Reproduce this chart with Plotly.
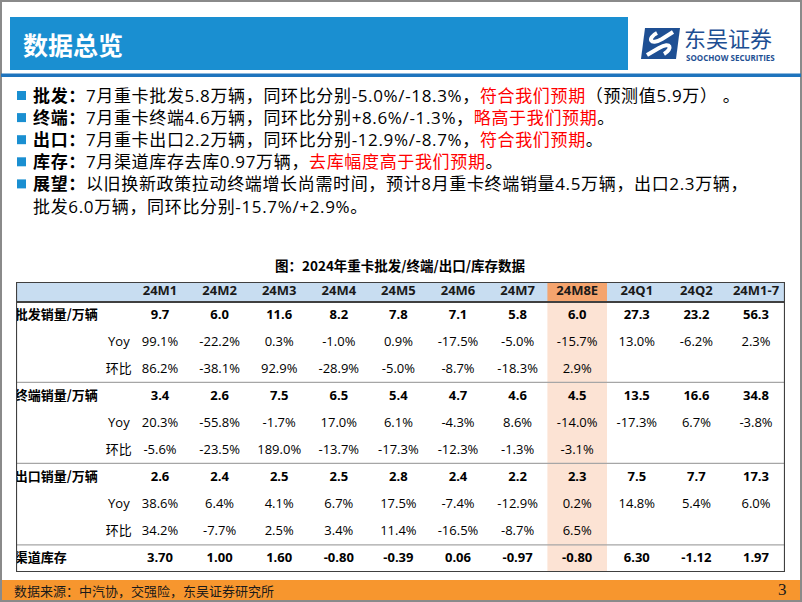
import plotly.graph_objects as go

W, H = 802, 602

# ---------------------------------------------------------------------------
# DADOS
# ---------------------------------------------------------------------------
COLS = ["24M1", "24M2", "24M3", "24M4", "24M5", "24M6", "24M7", "24M8E", "24Q1", "24Q2", "24M1-7"]
PIFA = [9.7, 6.0, 11.6, 8.2, 7.8, 7.1, 5.8, 6.0, 27.3, 23.2, 56.3]
PIFA_YOY = [99.1, -22.2, 0.3, -1.0, 0.9, -17.5, -5.0, -15.7, 13.0, -6.2, 2.3]
PIFA_HB = [86.2, -38.1, 92.9, -28.9, -5.0, -8.7, -18.3, 2.9, None, None, None]
ZHONGDUAN = [3.4, 2.6, 7.5, 6.5, 5.4, 4.7, 4.6, 4.5, 13.5, 16.6, 34.8]
ZHONGDUAN_YOY = [20.3, -55.8, -1.7, 17.0, 6.1, -4.3, 8.6, -14.0, -17.3, 6.7, -3.8]
ZHONGDUAN_HB = [-5.6, -23.5, 189.0, -13.7, -17.3, -12.3, -1.3, -3.1, None, None, None]
CHUKOU = [2.6, 2.4, 2.5, 2.5, 2.8, 2.4, 2.2, 2.3, 7.5, 7.7, 17.3]
CHUKOU_YOY = [38.6, 6.4, 4.1, 6.7, 17.5, -7.4, -12.9, 0.2, 14.8, 5.4, 6.0]
CHUKOU_HB = [34.2, -7.7, 2.5, 3.4, 11.4, -16.5, -8.7, 6.5, None, None, None]
KUCUN = [3.70, 1.00, 1.60, -0.80, -0.39, 0.06, -0.97, -0.80, 6.30, -1.12, 1.97]
HIGHLIGHT = "24M8E"

# (rótulo, sub-rótulo, valores, formato, negrito)
ROWS = [
    ("批发销量/万辆", "", PIFA, "{:.1f}", True),
    ("", "Yoy", PIFA_YOY, "{:.1f}%", False),
    ("", "环比", PIFA_HB, "{:.1f}%", False),
    ("终端销量/万辆", "", ZHONGDUAN, "{:.1f}", True),
    ("", "Yoy", ZHONGDUAN_YOY, "{:.1f}%", False),
    ("", "环比", ZHONGDUAN_HB, "{:.1f}%", False),
    ("出口销量/万辆", "", CHUKOU, "{:.1f}", True),
    ("", "Yoy", CHUKOU_YOY, "{:.1f}%", False),
    ("", "环比", CHUKOU_HB, "{:.1f}%", False),
    ("渠道库存", "", KUCUN, "{:.2f}", True),
]

BULLETS = [
    ("批发：", "7月重卡批发5.8万辆，同环比分别-5.0%/-18.3%，", "符合我们预期", "（预测值5.9万） 。"),
    ("终端：", "7月重卡终端4.6万辆，同环比分别+8.6%/-1.3%，", "略高于我们预期", "。"),
    ("出口：", "7月重卡出口2.2万辆，同环比分别-12.9%/-8.7%，", "符合我们预期", "。"),
    ("库存：", "7月渠道库存去库0.97万辆，", "去库幅度高于我们预期", "。"),
    ("展望：", "以旧换新政策拉动终端增长尚需时间，预计8月重卡终端销量4.5万辆，出口2.3万辆，", "", ""),
]
BULLET_TAIL = "批发6.0万辆，同环比分别-15.7%/+2.9%。"

# ---------------------------------------------------------------------------
# ESTILO
# ---------------------------------------------------------------------------
FONT = "Open Sans, Noto Sans CJK SC, sans-serif"
CJK = "Noto Sans CJK SC, sans-serif"
BLUE = "#1a8fd1"
BLUE_LINE = "#1f74bd"
NAVY = "#1e4f93"
HEAD_FILL = "#c8ddf1"
ORANGE_HEAD = "#f4a46e"
PEACH = "#fce3d4"
FOOT = "#f7962e"
BORDER = "#404040"


def px(x):
    return x / W


def py(y):
    return 1 - y / H


# geometria da tabela (pixels)
T_LEFT, T_RIGHT, T_TOP, T_BOT = 16, 785, 282, 572
C0, PITCH = 160, 59.6
R0, RPITCH = 289, 27

x_rng = [(T_LEFT - C0) / PITCH, (T_RIGHT - C0) / PITCH]
y_rng = [(T_BOT - R0) / RPITCH, (T_TOP - R0) / RPITCH]
head_bot = (302 - R0) / RPITCH
hi = COLS.index(HIGHLIGHT)

fig = go.Figure()
idx = list(range(len(COLS)))

# cabeçalho
fig.add_trace(go.Scatter(
    x=idx, y=[(292 - R0) / RPITCH] * len(COLS), mode="text", text=COLS,
    textfont=dict(family=FONT, size=13, color="#1a1a1a", weight="bold"),
    hoverinfo="skip",
))

for r, (label, sub, vals, fmt, bold) in enumerate(ROWS, start=1):
    txt = ["" if v is None else fmt.format(v) for v in vals]
    fig.add_trace(go.Scatter(
        x=idx, y=[r] * len(vals), mode="text", text=txt,
        textfont=dict(family=FONT, size=13, color="#000000", weight="bold" if bold else "normal"),
        hoverinfo="skip",
    ))
    if label:
        fig.add_trace(go.Scatter(
            x=[x_rng[0] - 0.02], y=[r], mode="text", text=[label], textposition="middle right",
            textfont=dict(family=CJK, size=13, color="#000000", weight="bold"), hoverinfo="skip",
        ))
    if sub:
        fig.add_trace(go.Scatter(
            x=[-0.69], y=[r], mode="text", text=[sub],
            textfont=dict(family=FONT, size=13, color="#000000"), hoverinfo="skip",
        ))

shapes = []
# moldura do slide
shapes.append(dict(type="rect", xref="paper", yref="paper", x0=px(1), x1=px(801), y0=py(601), y1=py(1),
                   line=dict(color="#8a8a8a", width=2), layer="below"))
# barra de título
shapes.append(dict(type="rect", xref="paper", yref="paper", x0=px(10), x1=px(628), y0=py(70), y1=py(17),
                   fillcolor=BLUE, line_width=0, layer="below"))
shapes.append(dict(type="rect", xref="paper", yref="paper", x0=px(1), x1=px(801), y0=py(77), y1=py(73.5),
                   fillcolor=BLUE_LINE, line_width=0, layer="below"))
# logo
shapes.append(dict(type="path", xref="paper", yref="paper",
                   path=f"M {px(645)},{py(28)} L {px(680)},{py(28)} L {px(676)},{py(59)} L {px(641)},{py(59)} Z",
                   fillcolor=NAVY, line_width=0))
shapes.append(dict(type="path", xref="paper", yref="paper",
                   path=(f"M {px(673)},{py(32)} L {px(662)},{py(39)} C {px(650)},{py(46)} {px(647)},{py(38)} {px(657)},{py(33)} "
                         f"M {px(647)},{py(55)} L {px(659)},{py(48)} C {px(671)},{py(41)} {px(673)},{py(49)} {px(664)},{py(54)}"),
                   line=dict(color="white", width=4)))

# tabela: fundos
shapes.append(dict(type="rect", xref="x", yref="y", x0=x_rng[0], x1=x_rng[1], y0=y_rng[1], y1=head_bot,
                   fillcolor=HEAD_FILL, line_width=0, layer="below"))
shapes.append(dict(type="rect", xref="x", yref="y", x0=hi - 0.5, x1=hi + 0.5, y0=y_rng[1], y1=head_bot,
                   fillcolor=ORANGE_HEAD, line_width=0, layer="below"))
shapes.append(dict(type="rect", xref="x", yref="y", x0=hi - 0.5, x1=hi + 0.5, y0=head_bot, y1=y_rng[0],
                   fillcolor=PEACH, line_width=0, layer="below"))
# separadores
for yy in [3.46, 6.46, 9.48]:
    shapes.append(dict(type="line", xref="x", yref="y", x0=x_rng[0], x1=x_rng[1], y0=yy, y1=yy,
                       line=dict(color="#a6a6a6", width=1.2)))
shapes.append(dict(type="line", xref="x", yref="y", x0=x_rng[0], x1=x_rng[1], y0=head_bot, y1=head_bot,
                   line=dict(color=BORDER, width=2)))
shapes.append(dict(type="rect", xref="x", yref="y", x0=x_rng[0], x1=x_rng[1], y0=y_rng[1], y1=y_rng[0],
                   line=dict(color=BORDER, width=2.2)))
# rodapé
shapes.append(dict(type="rect", xref="paper", yref="paper", x0=px(2), x1=px(800), y0=py(600), y1=py(580),
                   fillcolor=FOOT, line_width=0, layer="below"))

ann = []
ann.append(dict(text="<b>数据总览</b>", x=px(21), y=py(44), xref="paper", yref="paper", xanchor="left",
                yanchor="middle", showarrow=False, font=dict(family=CJK, size=25, color="white")))
ann.append(dict(text="东吴证券", x=px(683), y=py(37), xref="paper", yref="paper", xanchor="left",
                yanchor="middle", showarrow=False, borderpad=0, font=dict(family=CJK, size=22, color=NAVY)))
ann.append(dict(text="<b>SOOCHOW SECURITIES</b>", x=px(685), y=py(58), xref="paper", yref="paper",
                xanchor="left", yanchor="middle", showarrow=False, borderpad=0,
                font=dict(family="Open Sans, sans-serif", size=8, color=NAVY)))

# tópicos: um único bloco de texto com quebras de linha
BODY_SIZE = 17
lines = []
for head, body, red, tail in BULLETS:
    s = f"<b>{head}</b>{body}"
    if red:
        s += f"<span style='color:#ff0000'>{red}</span>"
    s += tail
    lines.append(s)
lines.append(BULLET_TAIL)
block = "<br>".join(f"<span style='letter-spacing:0.65px'>{s}</span>" for s in lines)
line_h = BODY_SIZE * 1.3
ann.append(dict(text=block, x=px(32), y=py(95 - line_h / 2 - 1), xref="paper", yref="paper", xanchor="left",
                yanchor="top", align="left", showarrow=False, borderpad=0,
                font=dict(family=FONT, size=BODY_SIZE, color="#000000")))
# marcadores dos tópicos (seguem a grade de linhas do bloco)
for i in range(len(BULLETS)):
    yc = 95 + i * line_h
    shapes.append(dict(type="rect", xref="paper", yref="paper", x0=px(17), x1=px(26), y0=py(yc + 5), y1=py(yc - 4),
                       fillcolor=BLUE, line_width=0))

ann.append(dict(text="<b>图：2024年重卡批发/终端/出口/库存数据</b>", x=px(400), y=py(265), xref="paper",
                yref="paper", xanchor="center", yanchor="middle", showarrow=False,
                font=dict(family=CJK, size=13.5, color="#000000")))
ann.append(dict(text="数据来源：中汽协，交强险，东吴证券研究所", x=px(12), y=py(590), xref="paper", yref="paper",
                xanchor="left", yanchor="middle", showarrow=False, font=dict(family=CJK, size=13, color="#1a1a1a")))
ann.append(dict(text="3", x=px(782), y=py(589), xref="paper", yref="paper", xanchor="center", yanchor="middle",
                showarrow=False, font=dict(family="Liberation Serif, serif", size=17, color="#1a1a1a")))

fig.update_layout(
    width=W, height=H,
    margin=dict(l=0, r=0, t=0, b=0),
    paper_bgcolor="white", plot_bgcolor="rgba(0,0,0,0)",
    showlegend=False,
    xaxis=dict(domain=[px(T_LEFT), px(T_RIGHT)], range=x_rng, visible=False, fixedrange=True),
    yaxis=dict(domain=[py(T_BOT), py(T_TOP)], range=y_rng, visible=False, fixedrange=True),
    shapes=shapes,
    annotations=ann,
)

fig.write_html("out.html", config={"displayModeBar": False},
               post_script="document.body.style.margin='0px';")
